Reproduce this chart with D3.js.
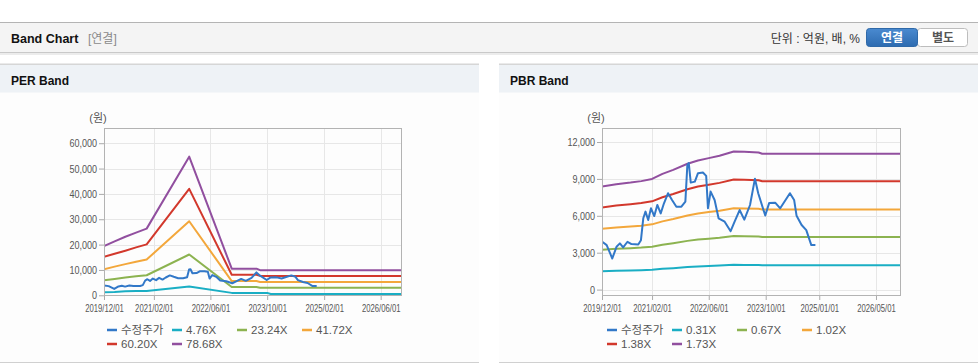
<!DOCTYPE html>
<html lang="ko">
<head>
<meta charset="UTF-8">
<title>Band Chart</title>
<script src="https://d3js.org/d3.v7.min.js"></script>
<style>
  body { margin: 0; background: #fff; font-family: "Liberation Sans", "Noto Sans CJK KR", sans-serif; }
  svg { display: block; }
  .tick-label { font-size: 11px; fill: #555; font-family: "Liberation Sans", sans-serif; }
  .legend-label { font-size: 11.5px; fill: #555; }
</style>
</head>
<body>
<div id="chart"></div>
<script>
// ---- data ----
const priceDates = ["2019-12-03","2020-01-10","2020-02-27","2020-04-03","2020-05-02","2020-05-30","2020-07-06","2020-08-09",
  "2020-10-06","2020-10-29","2020-11-18","2020-12-07","2020-12-30","2021-01-23","2021-02-20","2021-03-18","2021-04-16",
  "2021-05-14","2021-06-18","2021-07-22","2021-08-28","2021-10-10","2021-11-13","2021-11-30","2021-12-12","2021-12-29",
  "2022-02-02","2022-03-01","2022-04-12","2022-05-10","2022-05-25","2022-06-17","2022-07-21","2022-08-24","2022-10-15",
  "2022-12-05","2023-01-08","2023-02-20","2023-04-01","2023-05-20","2023-07-01","2023-07-29","2023-09-27","2023-10-31",
  "2023-12-21","2024-02-02","2024-04-25","2024-05-31","2024-06-21","2024-08-03","2024-09-12","2024-10-25","2024-11-29"];
const priceValues = [3890, 3620, 2530, 3480, 3760, 3430, 3890, 3700,
  3670, 4020, 5800, 6340, 5660, 6610, 5980, 6880, 6200,
  7020, 7840, 7290, 6740, 6740, 7150, 10150, 10290, 8700,
  8780, 9470, 9520, 9250, 6610, 7970, 7290, 5800, 5520,
  4750, 5520, 6470, 5690, 6880, 9020, 7840, 6020, 7050,
  7070, 6610, 7840, 7290, 6000, 5250, 4840, 3620, 3620];

// PER band
const perDates = ["2019-12-01","2020-03-01","2020-06-01","2020-09-01","2020-12-01","2021-12-01","2022-12-01",
  "2023-07-01","2023-08-01","2023-10-01","2023-11-01","2026-12-01"];
const per476  = [1150, 1300, 1550, 1650, 1700, 3450, 950, 950, 950, 950, 500, 500];
const per2324 = [5900, 6400, 7000, 7500, 7900, 16100, 3300, 3300, 2950, 2950, 2950, 2950];
const per4172 = [10300, 11300, 12300, 13200, 14100, 29200, 5600, 5600, 5250, 5250, 5250, 5250];
const per6020 = [15150, 16400, 17600, 18900, 20100, 42000, 8100, 8100, 7650, 7650, 7650, 7650];
const per7868 = [19450, 21300, 23100, 24700, 26300, 54700, 10500, 10500, 9900, 9900, 9900, 9900];
const perTicksY = [0, 10000, 20000, 30000, 40000, 50000, 60000];
const perTicksX = ["2019-12-01","2021-02-01","2022-06-01","2023-10-01","2025-02-01","2026-06-01"];

// PBR band
const pbrDates = ["2019-12-01","2020-04-01","2020-08-01","2020-11-01","2021-02-01","2021-05-01","2021-08-01","2021-12-01",
  "2022-03-01","2022-06-01","2022-09-01","2023-01-01","2023-04-01","2023-08-01","2023-09-01","2026-12-01"];
const pbr031 = [1502, 1536, 1559, 1581, 1613, 1686, 1745, 1833, 1882, 1916, 1950, 2012, 2007, 1998, 1980, 1980];
const pbr067 = [3246, 3319, 3370, 3416, 3486, 3645, 3772, 3962, 4067, 4140, 4214, 4349, 4338, 4318, 4280, 4280];
const pbr102 = [4941, 5053, 5130, 5200, 5306, 5548, 5743, 6032, 6191, 6303, 6415, 6621, 6604, 6574, 6515, 6515];
const pbr138 = [6685, 6836, 6940, 7036, 7179, 7506, 7770, 8160, 8376, 8527, 8679, 8958, 8934, 8894, 8815, 8815];
const pbr173 = [8380, 8570, 8700, 8820, 9000, 9410, 9740, 10230, 10500, 10690, 10880, 11230, 11200, 11150, 11050, 11050];
const pbrTicksY = [0, 3000, 6000, 9000, 12000];
const pbrTicksX = ["2019-12-01","2021-02-01","2022-06-01","2023-10-01","2025-01-01","2026-05-01"];

const parse = d3.timeParse("%Y-%m-%d");
const fmtX = d3.timeFormat("%Y/%m/%d");
const fmtY = d3.format(",");

const colors = { price: "#3278c8", c1: "#1aaec4", c2: "#8cb350", c3: "#f3a73b", c4: "#d2382c", c5: "#914f9f" };

const W = 978, H = 364;
const svg = d3.select("#chart").append("svg").attr("width", W).attr("height", H);

// ---- top bar ----
svg.append("rect").attr("x", 0).attr("y", 22).attr("width", W).attr("height", 31).attr("fill", "#f4f4f4");
svg.append("line").attr("x1", 0).attr("x2", W).attr("y1", 22.5).attr("y2", 22.5).attr("stroke", "#b4b4b4");
svg.append("line").attr("x1", 0).attr("x2", W).attr("y1", 52.5).attr("y2", 52.5).attr("stroke", "#c9c9c9");
svg.append("rect").attr("x", 0).attr("y", 53).attr("width", W).attr("height", 2).attr("fill", "#ececec");
svg.append("text").attr("x", 11).attr("y", 42.5).attr("font-size", "12.5px").attr("font-weight", "bold")
  .attr("fill", "#111").text("Band Chart");
svg.append("text").attr("x", 88).attr("y", 42.5).attr("font-size", "12px").attr("fill", "#8a8a8a").text("[연결]");
svg.append("text").attr("x", 860).attr("y", 42.5).attr("font-size", "12px").attr("fill", "#333")
  .attr("text-anchor", "end").text("단위 : 억원, 배, %");

const grad = svg.append("defs").append("linearGradient").attr("id", "btn").attr("x1", 0).attr("x2", 0).attr("y1", 0).attr("y2", 1);
grad.append("stop").attr("offset", "0%").attr("stop-color", "#4a8ad0");
grad.append("stop").attr("offset", "100%").attr("stop-color", "#2d6bb0");
svg.append("rect").attr("x", 917.5).attr("y", 28.5).attr("width", 50).attr("height", 18).attr("rx", 3)
  .attr("fill", "#fff").attr("stroke", "#bdbdbd");
svg.append("rect").attr("x", 866.5).attr("y", 28.5).attr("width", 51).attr("height", 18).attr("rx", 3)
  .attr("fill", "url(#btn)").attr("stroke", "#2f69a8");
svg.append("text").attr("x", 892).attr("y", 42).attr("text-anchor", "middle").attr("font-size", "12px")
  .attr("font-weight", "bold").attr("fill", "#fff").text("연결");
svg.append("text").attr("x", 943).attr("y", 42).attr("text-anchor", "middle").attr("font-size", "12px")
  .attr("font-weight", "bold").attr("fill", "#555").text("별도");

// squeeze text horizontally (the original uses a narrow font)
function squeeze(sel, k) {
  sel.each(function () {
    const w = this.getComputedTextLength();
    d3.select(this).attr("textLength", w * k).attr("lengthAdjust", "spacingAndGlyphs");
  });
}

// ---- panels ----
function drawPanel(cfg) {
  const g = svg.append("g");
  g.append("rect").attr("x", cfg.px).attr("y", 64).attr("width", 479).attr("height", 298).attr("fill", "#fdfdfd");
  g.append("rect").attr("x", cfg.px).attr("y", 64).attr("width", 479).attr("height", 28.5).attr("fill", "#eef2f6");
  g.append("rect").attr("x", cfg.px).attr("y", 63.5).attr("width", 479).attr("height", 1.5).attr("fill", "#d6d6d6");
  g.append("line").attr("x1", cfg.px).attr("x2", cfg.px + 479).attr("y1", 362.5).attr("y2", 362.5).attr("stroke", "#d0d0d0");
  g.append("text").attr("x", cfg.px + 11).attr("y", 84.5).attr("font-size", "12px").attr("font-weight", "bold")
    .attr("fill", "#111").text(cfg.title);

  const x = d3.scaleTime().domain([parse("2019-12-01"), parse("2026-12-01")]).range([cfg.left, cfg.right]);
  const y = d3.scaleLinear().domain(cfg.yDomain).range([cfg.bottom, cfg.top]);

  // grid
  g.append("g").selectAll("line").data(cfg.ticksY).join("line")
    .attr("x1", cfg.left).attr("x2", cfg.right)
    .attr("y1", d => Math.round(y(d)) + 0.5).attr("y2", d => Math.round(y(d)) + 0.5)
    .attr("stroke", "#e7e7e7");
  g.append("g").selectAll("line").data(cfg.ticksX.map(parse)).join("line")
    .attr("x1", d => Math.round(x(d)) + 0.5).attr("x2", d => Math.round(x(d)) + 0.5)
    .attr("y1", cfg.top).attr("y2", cfg.bottom)
    .attr("stroke", "#e7e7e7");

  // axes
  const yAxis = g.append("g").attr("transform", `translate(${cfg.left},0)`)
    .call(d3.axisLeft(y).tickValues(cfg.ticksY).tickFormat(fmtY).tickSize(5).tickPadding(2));
  const xAxis = g.append("g").attr("transform", `translate(0,${cfg.bottom})`)
    .call(d3.axisBottom(x).tickValues(cfg.ticksX.map(parse)).tickFormat(fmtX).tickSize(4).tickPadding(4));
  [yAxis, xAxis].forEach(a => {
    a.select(".domain").remove();
    a.selectAll("line").attr("stroke", "#aaa");
    a.selectAll("text").attr("class", "tick-label");
  });
  squeeze(yAxis.selectAll("text"), 0.82);
  squeeze(xAxis.selectAll("text"), 0.7);

  g.append("text").attr("x", cfg.left - 6).attr("y", 122).attr("text-anchor", "middle")
    .attr("font-size", "11px").attr("fill", "#555").text("(원)");

  // lines
  const clipId = "clip" + cfg.px;
  g.append("clipPath").attr("id", clipId).append("rect")
    .attr("x", cfg.left).attr("y", cfg.top).attr("width", cfg.right - cfg.left).attr("height", cfg.bottom - cfg.top);
  const line = d3.line().x(d => x(d[0])).y(d => y(d[1]));
  const lg = g.append("g").attr("clip-path", `url(#${clipId})`);
  cfg.series.slice().reverse().forEach(s => {
    const pts = s.dates.map((d, i) => [parse(d), s.values[i]]);
    lg.append("path").datum(pts).attr("d", line).attr("fill", "none")
      .attr("stroke", s.color).attr("stroke-width", 2).attr("stroke-linejoin", "round");
  });

  // frame
  g.append("rect").attr("x", cfg.left + 0.5).attr("y", cfg.top + 0.5)
    .attr("width", cfg.right - cfg.left - 1).attr("height", cfg.bottom - cfg.top - 1)
    .attr("fill", "none").attr("stroke", "#b3b3b3");

  // legend
  const leg = g.append("g");
  cfg.series.forEach((s, i) => {
    const col = i % 4, row = Math.floor(i / 4);
    const lx = cfg.legendX + col * 65, ly = 330 + row * 14;
    leg.append("line").attr("x1", lx).attr("x2", lx + 10).attr("y1", ly).attr("y2", ly)
      .attr("stroke", s.color).attr("stroke-width", 2.5);
    leg.append("text").attr("x", lx + 14).attr("y", ly + 4).attr("class", "legend-label").text(s.name);
  });
}

drawPanel({
  px: 0, title: "PER Band", left: 104, right: 402, top: 128, bottom: 296,
  yDomain: [-280, 66000], ticksY: perTicksY, ticksX: perTicksX, legendX: 107,
  series: [
    { name: "수정주가", color: colors.price, dates: priceDates, values: priceValues },
    { name: "4.76X", color: colors.c1, dates: perDates, values: per476 },
    { name: "23.24X", color: colors.c2, dates: perDates, values: per2324 },
    { name: "41.72X", color: colors.c3, dates: perDates, values: per4172 },
    { name: "60.20X", color: colors.c4, dates: perDates, values: per6020 },
    { name: "78.68X", color: colors.c5, dates: perDates, values: per7868 }
  ]
});

drawPanel({
  px: 499, title: "PBR Band", left: 602, right: 901, top: 128, bottom: 296,
  yDomain: [-520, 13140], ticksY: pbrTicksY, ticksX: pbrTicksX, legendX: 607,
  series: [
    { name: "수정주가", color: colors.price, dates: priceDates, values: priceValues },
    { name: "0.31X", color: colors.c1, dates: pbrDates, values: pbr031 },
    { name: "0.67X", color: colors.c2, dates: pbrDates, values: pbr067 },
    { name: "1.02X", color: colors.c3, dates: pbrDates, values: pbr102 },
    { name: "1.38X", color: colors.c4, dates: pbrDates, values: pbr138 },
    { name: "1.73X", color: colors.c5, dates: pbrDates, values: pbr173 }
  ]
});
</script>
</body>
</html>
